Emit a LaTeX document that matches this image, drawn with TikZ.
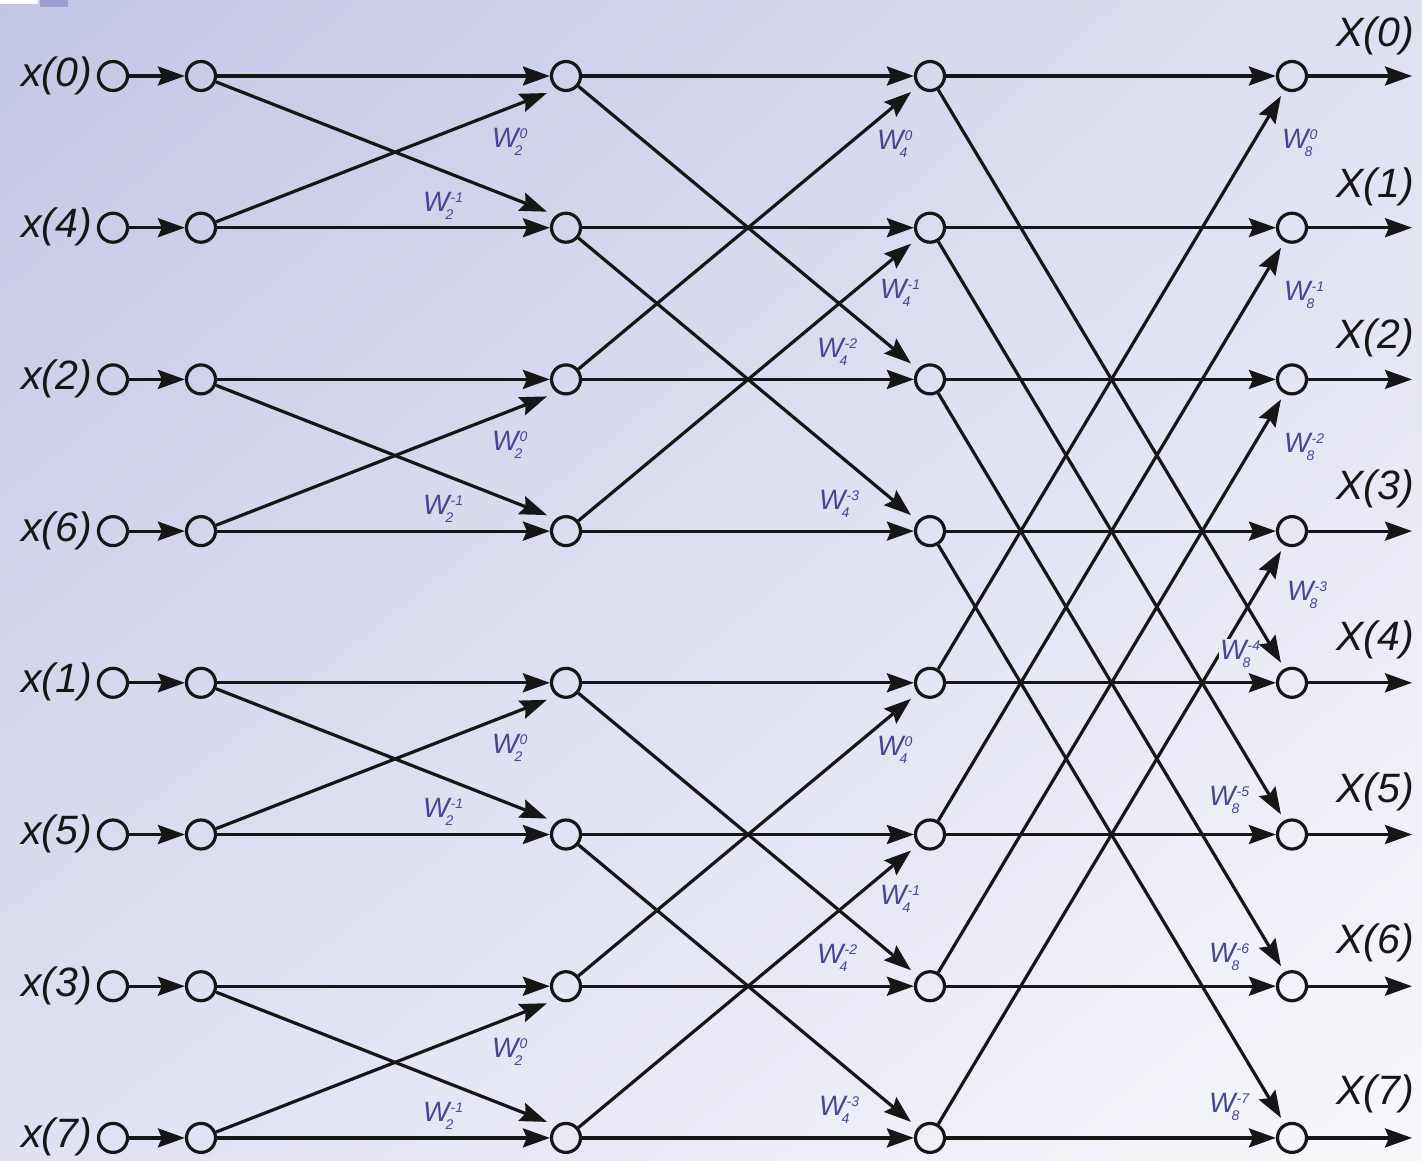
\documentclass[tikz,border=0pt]{standalone}
\usepackage{fontspec}
\setmainfont{Liberation Sans}
\usetikzlibrary{arrows.meta,calc,shadings}

\definecolor{bgA}{RGB}{196,198,230}
\definecolor{bgM}{RGB}{223,224,241}
\definecolor{bgB}{RGB}{247,247,251}
\definecolor{bgL}{RGB}{233,234,245}
\definecolor{twc}{RGB}{70,70,146}
\definecolor{ink}{RGB}{22,22,22}
\definecolor{tabc}{RGB}{158,158,208}

% twiddle factor W with stacked subscript and superscript
\newcommand\twd[2]{W\rlap{\kern1pt\raisebox{9pt}{\fontsize{14}{14}\selectfont #2}}\kern-4pt\raisebox{-8pt}{\fontsize{14}{14}\selectfont #1}}

\begin{document}
\begin{tikzpicture}[x=1pt,y=-1pt,
  dot/.style={circle,draw=ink,line width=3.2pt,minimum size=29pt,inner sep=0pt},
  flow/.style={draw=ink,line width=3.2pt,-{Stealth[length=27pt,width=19pt,inset=4pt]}},
  inlab/.style={font=\fontsize{41}{41}\selectfont\itshape,text=ink,inner sep=0pt,anchor=base east},
  outlab/.style={font=\fontsize{41}{41}\selectfont\itshape,text=ink,inner sep=0pt,anchor=base east},
  tw/.style={font=\fontsize{28}{28}\selectfont\itshape,text=twc,inner sep=0pt,anchor=base west}]

\useasboundingbox (0,0) rectangle (1422,1160);
\shade[upper left=bgA,upper right=bgM,lower left=bgM,lower right=bgB] (0,0) rectangle (1422,1160);
\fill[white] (0,0) rectangle (38,4);
\fill[tabc] (40,0) rectangle (68,7);

% nodes of the eight rows
\foreach \r/\lab in {0/0,1/4,2/2,3/6,4/1,5/5,6/3,7/7} {
  \pgfmathsetmacro\yy{76+151.7*\r}
  \node[dot] (i\r) at (113,\yy) {};
  \node[dot] (a\r) at (201,\yy) {};
  \node[dot] (b\r) at (566,\yy) {};
  \node[dot] (c\r) at (930,\yy) {};
  \node[dot] (d\r) at (1292,\yy) {};
  \coordinate (o\r) at (1412,\yy);
  \node[inlab] (xin\r) at (92,{\yy+10}) {x(\lab)};
  \node[outlab] (xout\r) at (1414,{46+151.2*\r}) {X(\r)};
}

% straight connections
\foreach \r in {0,...,7} {
  \draw[flow] (i\r) -- (a\r);
  \draw[flow] (a\r) -- (b\r);
  \draw[flow] (b\r) -- (c\r);
  \draw[flow] (c\r) -- (d\r);
  \draw[flow] (d\r) -- (o\r);
}

% stage 1 butterflies
\foreach \p/\q in {0/1,2/3,4/5,6/7} {
  \draw[flow] (a\p) -- ($(b\q)+(-19,-16)$);
  \draw[flow] (a\q) -- ($(b\p)+(-19,17)$);
}
% stage 2 butterflies
\foreach \p/\q in {0/2,1/3,4/6,5/7} {
  \draw[flow] (b\p) -- ($(c\q)+(-19,-16)$);
  \draw[flow] (b\q) -- ($(c\p)+(-19,16)$);
}
% stage 3 butterflies
\foreach \p/\q in {0/4,1/5,2/6,3/7} {
  \draw[flow] (c\p) -- ($(d\q)+(-11,-20)$);
  \draw[flow] (c\q) -- ($(d\p)+(-11,20)$);
}

% twiddle factors, stage 1
\foreach \g in {0,...,3} {
  \node[tw] (wa\g) at (492,{147+303.4*\g}) {\twd{2}{0}};
  \node[tw] (wb\g) at (423,{211+303.4*\g}) {\twd{2}{-1}};
}
% twiddle factors, stage 2
\foreach \g in {0,1} {
  \node[tw] (wc\g) at (877,{149+606.8*\g}) {\twd{4}{0}};
  \node[tw] (wd\g) at (880,{298+606.8*\g}) {\twd{4}{-1}};
  \node[tw] (we\g) at (817,{357+606.8*\g}) {\twd{4}{-2}};
  \node[tw] (wf\g) at (819,{509+606.8*\g}) {\twd{4}{-3}};
}
% twiddle factors, stage 3
\node[tw] (w80) at (1282,148) {\twd{8}{0}};
\node[tw] (w81) at (1284,300) {\twd{8}{-1}};
\node[tw] (w82) at (1284,452) {\twd{8}{-2}};
\node[tw] (w83) at (1287,600) {\twd{8}{-3}};
\node[tw,fill=bgL,inner sep=1pt] (w84) at (1219,659) {\twd{8}{-4}};
\node[tw] (w85) at (1209,805) {\twd{8}{-5}};
\node[tw] (w86) at (1209,962) {\twd{8}{-6}};
\node[tw] (w87) at (1209,1112) {\twd{8}{-7}};
\end{tikzpicture}
\end{document}
